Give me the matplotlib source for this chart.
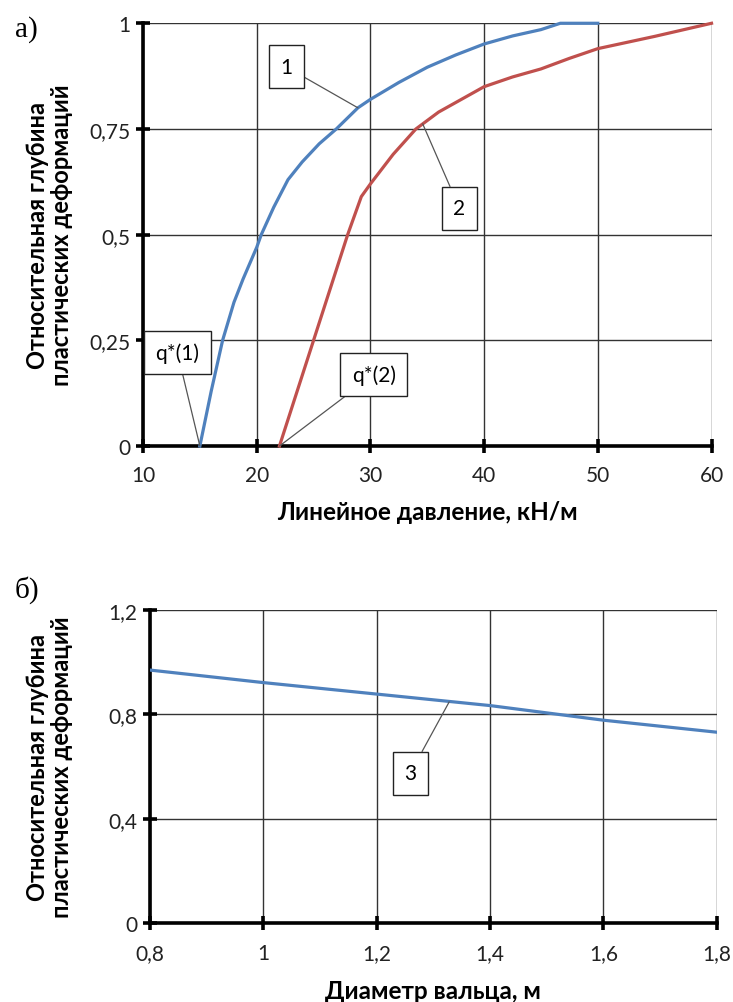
import matplotlib.pyplot as plt

plt.rcParams['font.family'] = ['Lato', 'DejaVu Sans']

# curve 1 and 2: relative depth vs linear pressure
q1 = [15, 16, 17, 18, 18.8, 20, 20.4, 21.5, 22.75, 24, 25.5, 27, 28.9, 30, 32.5, 35, 37.5, 40, 42.5, 45, 46.7, 48, 50]
h1 = [0, 0.13, 0.25, 0.34, 0.395, 0.47, 0.5, 0.565, 0.63, 0.672, 0.715, 0.75, 0.80, 0.82, 0.86, 0.896, 0.925, 0.951, 0.97, 0.985, 1.0, 1.0, 1.0]
q2 = [22, 25, 28, 29.2, 30, 32, 34, 36, 38, 40, 42.5, 45, 47.5, 50, 55, 60]
h2 = [0, 0.25, 0.5, 0.59, 0.62, 0.69, 0.75, 0.79, 0.82, 0.85, 0.873, 0.892, 0.917, 0.94, 0.969, 1.0]

# curve 3: relative depth vs roller diameter
d3 = [0.8, 1.0, 1.2, 1.4, 1.6, 1.8]
h3 = [0.97, 0.922, 0.878, 0.834, 0.778, 0.732]

blue = '#4f81bd'
red = '#c0504d'
ylab = 'Относительная глубина\nпластических деформаций'

fig = plt.figure(figsize=(7.33, 10.03), dpi=100)
ax1 = fig.add_axes([0.1951, 0.5543, 0.7756, 0.4215])
ax2 = fig.add_axes([0.2046, 0.0785, 0.7731, 0.3123])


def style(ax):
    for s in ['top', 'right']:
        ax.spines[s].set_visible(False)
    for s in ['left', 'bottom']:
        ax.spines[s].set_linewidth(2.6)
    ax.grid(True, color='#333333', lw=1)
    ax.set_axisbelow(True)
    ax.tick_params(direction='inout', length=10, width=2.6, labelsize=15,
                   labelcolor='#222222')
    ax.tick_params(axis='x', pad=9)
    ax.tick_params(axis='y', pad=4)


box = dict(boxstyle='square,pad=0.55', fc='white', ec='#222222', lw=1)
arr = dict(arrowstyle='-', color='#555555', lw=0.9, shrinkA=0, shrinkB=0)

# top panel
ax1.plot(q1, h1, color=blue, lw=2.3, clip_on=False, zorder=3)
ax1.plot(q2, h2, color=red, lw=2.3, clip_on=False, zorder=3)
ax1.set_xlim(10, 60)
ax1.set_ylim(0, 1)
ax1.set_xticks([10, 20, 30, 40, 50, 60])
ax1.set_yticks([0, 0.25, 0.5, 0.75, 1])
ax1.set_yticklabels(['0', '0,25', '0,5', '0,75', '1'])
style(ax1)
ax1.set_xlabel('Линейное давление, кН/м', fontsize=17.5, fontweight='bold')
ax1.xaxis.set_label_coords(0.5, -0.128)
ax1.set_ylabel(ylab, fontsize=17, fontweight='bold', linespacing=1.05)
ax1.yaxis.set_label_coords(-0.123, 0.5)

ax1.annotate('1', xy=(28.9, 0.80), xytext=(22.58, 0.897), fontsize=15,
             ha='center', va='center', bbox=box, arrowprops=arr, zorder=4)
ax1.annotate('2', xy=(34.6, 0.762), xytext=(37.84, 0.562), fontsize=15,
             ha='center', va='center', bbox=box, arrowprops=arr, zorder=4)
ax1.annotate('q*(1)', xy=(15, 0), xytext=(13.03, 0.221), fontsize=15,
             ha='center', va='center', bbox=dict(box, pad=0.4), arrowprops=arr, zorder=4)
ax1.annotate('q*(2)', xy=(22, 0), xytext=(30.3, 0.169), fontsize=15,
             ha='center', va='center', bbox=dict(box, pad=0.4), arrowprops=arr, zorder=4)

# bottom panel
ax2.plot(d3, h3, color=blue, lw=2.3, zorder=3)
ax2.set_xlim(0.8, 1.8)
ax2.set_ylim(0, 1.2)
ax2.set_xticks([0.8, 1.0, 1.2, 1.4, 1.6, 1.8])
ax2.set_xticklabels(['0,8', '1', '1,2', '1,4', '1,6', '1,8'])
ax2.set_yticks([0, 0.4, 0.8, 1.2])
ax2.set_yticklabels(['0', '0,4', '0,8', '1,2'])
style(ax2)
ax2.set_xlabel('Диаметр вальца, м', fontsize=17.5, fontweight='bold')
ax2.xaxis.set_label_coords(0.5, -0.178)
ax2.set_ylabel(ylab, fontsize=17, fontweight='bold', linespacing=1.05)
ax2.yaxis.set_label_coords(-0.136, 0.5)

ax2.annotate('3', xy=(1.328, 0.848), xytext=(1.259, 0.574), fontsize=15,
             ha='center', va='center', bbox=box, arrowprops=arr, zorder=4)

fig.text(15 / 733, 1 - 30 / 1003, 'а)', family='Liberation Serif', fontsize=21,
         va='center', ha='left')
fig.text(15 / 733, 1 - 590 / 1003, 'б)', family='Liberation Serif', fontsize=21,
         va='center', ha='left')

fig.savefig('out.png', dpi=100, facecolor='white')
